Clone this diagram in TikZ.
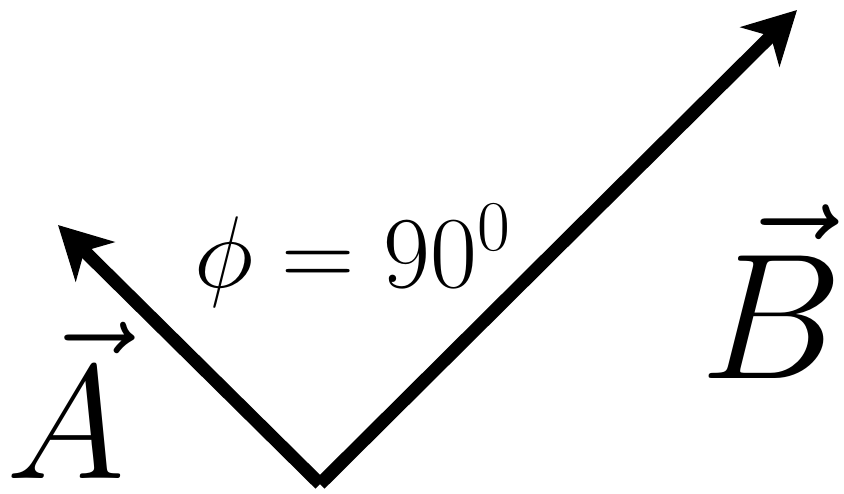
\documentclass[tikz,border=0pt]{standalone}
\usepackage{fix-cm}
\usepackage{amsmath, amssymb}
\usetikzlibrary{positioning, arrows.meta}

\begin{document}
\begin{tikzpicture}[
      vec/.style={line width=3.7pt, -{Stealth[length=0.52cm, width=0.55cm, inset=0.15cm]}},
      biglabel/.style={inner sep=0pt, anchor=base, font=\fontsize{46}{55}\selectfont},
      anglelabel/.style={inner sep=0pt, font=\fontsize{29}{35}\selectfont}
    ]
      \useasboundingbox (0,0) rectangle (8.44,4.93);
      \coordinate (origin) at (3.20,0.09);
      \coordinate (tipA) at (0.58,2.68);
      \coordinate (tipB) at (7.97,4.83);

      \draw[vec] (origin) -- (tipA);
      \draw[vec] (origin) -- (tipB);

      \node[biglabel] (labelA) at (0.66,0.15) {$\vec{A}$};
      \node[biglabel, font=\fontsize{51}{61}\selectfont] (labelB) at (7.72,1.15) {$\vec{B}$};
      \node[anglelabel] (phi) at (3.53,2.37) {$\phi = 90^0$};
    \end{tikzpicture}
\end{document}
